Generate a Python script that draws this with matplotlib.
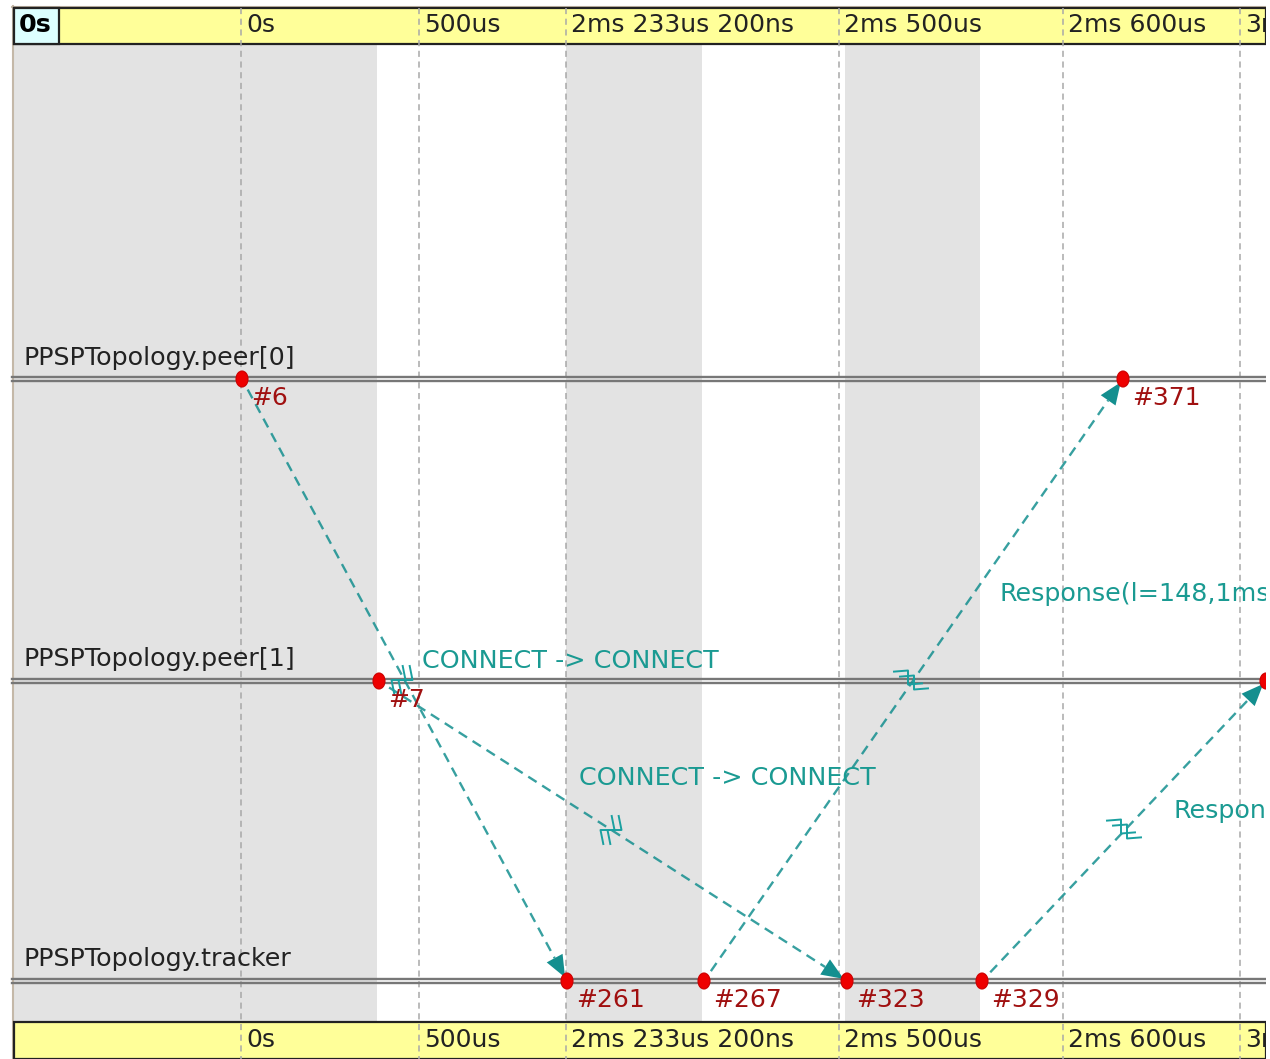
import matplotlib
matplotlib.use('Agg')
import matplotlib.pyplot as plt
from matplotlib.patches import Rectangle, Ellipse, Polygon
import numpy as np

# ── Data (picture pixels) ─────────────────────────────────────────────────────
module_names = ['PPSPTopology.peer[0]', 'PPSPTopology.peer[1]', 'PPSPTopology.tracker']
module_y = [379, 681, 981]
module_label_y = [358, 659, 959]

tick_x = [241, 419, 566, 839, 1063, 1240]
tick_labels = ['0s', '500us', '2ms 233us 200ns', '2ms 500us', '2ms 600us', '3ms']

shade_left = [12, 566, 845]
shade_right = [377, 702, 980]

event_x = [242, 379, 567, 704, 847, 982, 1123, 1266]
event_y = [379, 681, 981, 981, 981, 981, 379, 681]
event_names = ['#6', '#7', '#261', '#267', '#323', '#329', '#371', '']

# message: start event, end event
msg_from = [0, 1, 3, 5]
msg_to = [2, 4, 6, 7]
break_x = [402, 611, 911, 1124]
break_y = [680, 830, 680, 829]

msg_labels = ['CONNECT -> CONNECT', 'CONNECT -> CONNECT', 'Response(l=148,1ms', 'Respon']
msg_label_x = [422, 579, 1000, 1174]
msg_label_y = [661, 778, 594, 811]

TEAL = '#148f8f'
GREY = '#a8a8a8'
FS = 18.3

# ── Plot ──────────────────────────────────────────────────────────────────────
fig = plt.figure(figsize=(12.7, 10.59), dpi=100)
ax = fig.add_axes([0, 0, 1, 1])
ax.set_xlim(0, 1270)
ax.set_ylim(1059, 0)
ax.axis('off')
R = 1266

for l, r in zip(shade_left, shade_right):
    ax.add_patch(Rectangle((l, 44), r - l, 978, fc='#e3e3e3', ec='none', zorder=1))
ax.plot([12.5, 12.5], [6, 1059], color='#c4b8a8', lw=1.5, zorder=1)
ax.plot([12, R], [7, 7], color='#c4b8a8', lw=1.5, zorder=1)

# time axis bands
for top, h in [(8, 36), (1022, 37)]:
    ax.add_patch(Rectangle((14, top), R - 14, h, fc='#ffff99', ec='#222222', lw=1.6, zorder=2))
ax.add_patch(Rectangle((14, 8), 45, 36, fc='#ddffff', ec='#222222', lw=1.6, zorder=3))
ax.text(35.5, 25, '0s', fontsize=FS, fontweight='bold', ha='center', va='center',
        color='black', zorder=4)

clip = Rectangle((0, 0), R, 1059, transform=ax.transData)
for x, lab in zip(tick_x, tick_labels):
    ax.plot([x, x], [8, 1059], color=GREY, lw=1.1, ls=(0, (4, 3)), zorder=3)
    for y in (25, 1040):
        t = ax.text(x + 5, y, lab, fontsize=FS - 0.3, va='center', ha='left', color='#222222',
                    zorder=4)
        t.set_clip_path(clip)

# module axis lines
for name, y, ly in zip(module_names, module_y, module_label_y):
    ax.plot([12, R], [y - 2, y - 2], color='#777777', lw=1.7, zorder=4)
    ax.plot([12, R], [y + 1.5, y + 1.5], color='#777777', lw=1.7, zorder=4)
    ax.text(23, ly, name, fontsize=FS, va='center', ha='left', color='#222222', zorder=5)

# messages
for a, b, bx, by in zip(msg_from, msg_to, break_x, break_y):
    p0 = np.array([event_x[a], event_y[a]], dtype=float)
    p1 = np.array([event_x[b], event_y[b]], dtype=float)
    d = (p1 - p0) / np.hypot(*(p1 - p0))
    n = np.array([-d[1], d[0]])
    # start a little off the event, stop behind the arrow head
    s = p0 + d * 12
    tip = p1 - d * 4
    base = tip - d * 22
    ax.plot([s[0], base[0]], [s[1], base[1]], color=TEAL, lw=1.7, ls=(0, (4.2, 2.8)),
            alpha=0.85, zorder=6)
    ax.add_patch(Polygon([tip, base + n * 9, base - n * 9], fc=TEAL, ec='none', zorder=6))

    # break mark, two offset z shapes; bars stand up on falling messages
    c = np.array([bx, by], dtype=float)
    if d[1] > 0:
        u, v, shift = np.array([0.2, 1.0]), np.array([1.0, 0.0]), np.array([3.5, 0.0])
    else:
        u, v, shift = np.array([1.0, -0.08]), np.array([0.0, -1.0]), np.array([3.0, 2.5])
    for off in (-1, 1):
        o = c + shift * off
        z = np.array([o + v * 7 - u * 14, o + v * 7, o - v * 7, o - v * 7 + u * 14])
        ax.plot(z[:, 0], z[:, 1], color='#1aa0a0', lw=1.4, zorder=7)

for lab, x, y in zip(msg_labels, msg_label_x, msg_label_y):
    ax.text(x, y, lab, fontsize=FS, va='center', ha='left', color='#1a9a92', zorder=8)

# events
for x, y, name in zip(event_x, event_y, event_names):
    ax.add_patch(Ellipse((x, y), 12, 16, fc='#ee0000', ec='#cc0000', lw=0.8, zorder=9))
    if name:
        ax.text(x + 9, y + 19, name, fontsize=FS - 0.3, va='center', ha='left', color='#a01010', zorder=9)

# white strip where the picture ends
ax.add_patch(Rectangle((R, 0), 1270 - R, 1059, fc='white', ec='none', zorder=20))

plt.savefig('out.png', dpi=100)
